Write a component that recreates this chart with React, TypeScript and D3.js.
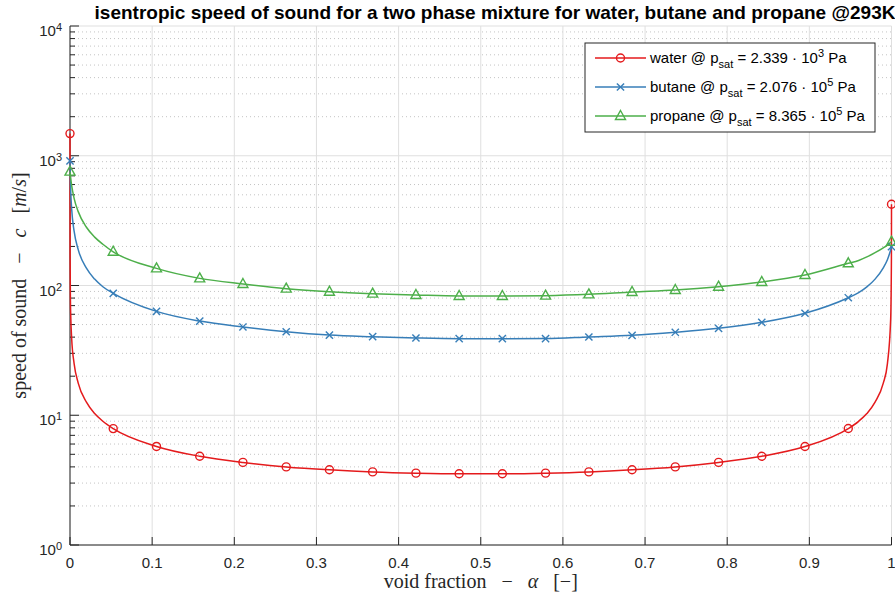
import React from 'react';
import * as d3 from 'd3';

// ---------- data ----------
const markerAlpha = [0, 0.0526, 0.1053, 0.1579, 0.2105, 0.2632, 0.3158, 0.3684, 0.4211, 0.4737,
  0.5263, 0.5789, 0.6316, 0.6842, 0.7368, 0.7895, 0.8421, 0.8947, 0.9474, 1];
const waterMarkers = [1482, 7.89, 5.75, 4.83, 4.33, 4.0, 3.80, 3.66, 3.58, 3.54,
  3.54, 3.58, 3.66, 3.80, 4.0, 4.33, 4.83, 5.74, 7.9, 423];
const butaneMarkers = [912, 87.1, 63.2, 53.2, 47.9, 44.0, 41.5, 40.3, 39.4, 38.9,
  38.9, 39.0, 40.1, 41.3, 43.6, 46.8, 52.0, 61.1, 80.5, 199];
const propaneMarkers = [755, 182, 135.5, 113.5, 102.7, 94.6, 89.6, 86.5, 84.5, 83.0,
  83.0, 83.5, 85.5, 89.1, 92.3, 97.9, 106.4, 120.5, 148.3, 217.6];

const headAlpha = [0.0001, 0.0005, 0.001, 0.002, 0.005, 0.01, 0.02, 0.03, 0.04];
const tailAlpha = [0.96, 0.97, 0.98, 0.99, 0.995, 0.999, 0.9999, 0.99999];
const waterHead = [175, 78.8, 55.7, 39.4, 25.0, 17.7, 12.6, 10.3, 8.99];
const waterTail = [8.98, 10.3, 12.6, 17.7, 24.9, 55.2, 162.6, 336.9];
const butaneHead = [824, 627, 507, 390, 262, 189, 136, 112, 97.8];
const butaneTail = [88, 97.5, 112, 137, 158, 188, 197, 198.8];
const propaneHead = [743, 701, 658, 591, 470, 371, 281, 236, 208];
const propaneTail = [156, 166, 179, 195, 205, 215, 217.4, 217.6];

const xTicks = [0, 0.1, 0.2, 0.3, 0.4, 0.5, 0.6, 0.7, 0.8, 0.9, 1];
const xTickLabels = ['0', '0.1', '0.2', '0.3', '0.4', '0.5', '0.6', '0.7', '0.8', '0.9', '1'];
const yTicks = [1, 10, 100, 1000, 10000];
const yTickExp = ['0', '1', '2', '3', '4'];

const seriesNames = ['water', 'butane', 'propane'];
const psatMant = ['2.339', '2.076', '8.365'];
const psatExp = ['3', '5', '5'];
const colors = ['#e41a1c', '#377eb8', '#4daf4a'];
const markerKinds = ['circle', 'cross', 'triangle'];

// ---------- layout ----------
const W = 895, H = 599;
const L = 70, R = 891.5, T = 26, B = 545;
const FONT = "'Liberation Sans', Arial, Helvetica, sans-serif";
const SERIF = "'Liberation Serif', 'Times New Roman', serif";
const AX = '#262626';

function buildLine(markers: number[], head: number[], tail: number[]) {
  const a = [markerAlpha[0], ...headAlpha, ...markerAlpha.slice(1, -1), ...tailAlpha, markerAlpha[markerAlpha.length - 1]];
  const v = [markers[0], ...head, ...markers.slice(1, -1), ...tail, markers[markers.length - 1]];
  return a.map((al, i) => [al, v[i]] as [number, number]);
}

function Marker({ kind, x, y, color }: { kind: string; x: number; y: number; color: string }) {
  if (kind === 'circle') return <circle cx={x} cy={y} r={4} fill="none" stroke={color} strokeWidth={1.4} />;
  if (kind === 'cross') {
    const s = 3.6;
    return (
      <g stroke={color} strokeWidth={1.4}>
        <line x1={x - s} y1={y - s} x2={x + s} y2={y + s} />
        <line x1={x - s} y1={y + s} x2={x + s} y2={y - s} />
      </g>
    );
  }
  return <polygon points={`${x},${y - 5.5} ${x + 5},${y + 3.5} ${x - 5},${y + 3.5}`} fill="none" stroke={color} strokeWidth={1.4} />;
}

export default function App() {
  const x = d3.scaleLinear().domain([0, 1]).range([L, R]);
  const y = d3.scaleLog().domain([1, 10000]).range([B, T]);
  const line = d3.line<[number, number]>().x(d => x(d[0])).y(d => y(d[1])).curve(d3.curveMonotoneX);

  const lines = [
    buildLine(waterMarkers, waterHead, waterTail),
    buildLine(butaneMarkers, butaneHead, butaneTail),
    buildLine(propaneMarkers, propaneHead, propaneTail),
  ];
  const markerSets = [waterMarkers, butaneMarkers, propaneMarkers];

  const minorY: number[] = [];
  for (let d = 0; d < 4; d++) for (let k = 2; k <= 9; k++) minorY.push(k * Math.pow(10, d));

  const lgX = 585, lgY = 43, lgW = 290, lgH = 89;
  const pre = { whiteSpace: 'pre' as const };

  return (
    <svg width={W} height={H} style={{ position: 'fixed', left: 0, top: 0, background: '#fff' }} fontFamily={FONT}>
      <rect x={0} y={0} width={W} height={H} fill="#fff" />
      {/* minor grid */}
      {minorY.map((v, i) => (
        <line key={'mg' + i} x1={L} x2={R} y1={y(v)} y2={y(v)} stroke="#c4c4c4" strokeWidth={1} strokeDasharray="1 3" />
      ))}
      {/* major grid */}
      {yTicks.map((v, i) => (
        <line key={'gy' + i} x1={L} x2={R} y1={y(v)} y2={y(v)} stroke="#dfdfdf" strokeWidth={1} />
      ))}
      {xTicks.map((v, i) => (
        <line key={'gx' + i} x1={x(v)} x2={x(v)} y1={T} y2={B} stroke="#dfdfdf" strokeWidth={1} />
      ))}
      {/* axes */}
      <line x1={L} x2={L} y1={T} y2={B} stroke={AX} strokeWidth={1} />
      <line x1={L} x2={R} y1={B} y2={B} stroke={AX} strokeWidth={1} />
      {xTicks.map((v, i) => (
        <line key={'tx' + i} x1={x(v)} x2={x(v)} y1={B} y2={B - 8} stroke={AX} strokeWidth={1} />
      ))}
      {yTicks.map((v, i) => (
        <line key={'ty' + i} x1={L} x2={L + 9} y1={y(v)} y2={y(v)} stroke={AX} strokeWidth={1} />
      ))}
      {minorY.map((v, i) => (
        <line key={'mty' + i} x1={L} x2={L + 5} y1={y(v)} y2={y(v)} stroke={AX} strokeWidth={1} />
      ))}
      {/* tick labels */}
      {xTicks.map((v, i) => (
        <text key={'lx' + i} x={x(v)} y={568} textAnchor="middle" fontSize={15} fill={AX}>{xTickLabels[i]}</text>
      ))}
      {yTicks.map((v, i) => (
        <text key={'ly' + i} x={62} y={y(v) + 10} textAnchor="end" fontSize={15} fill={AX}>
          <tspan>10</tspan>
          <tspan dy={-5} fontSize={11}>{yTickExp[i]}</tspan>
        </text>
      ))}
      {/* data */}
      {lines.map((pts, s) => (
        <path key={'p' + s} d={line(pts) || ''} fill="none" stroke={colors[s]} strokeWidth={1.5} />
      ))}
      {markerSets.map((vals, s) =>
        vals.map((v, i) => (
          <Marker key={'m' + s + '-' + i} kind={markerKinds[s]} x={x(markerAlpha[i])} y={y(v)} color={colors[s]} />
        ))
      )}
      {/* title */}
      <text x={495} y={19} textAnchor="middle" fontSize={19} fontWeight="bold" fill="#000">
        isentropic speed of sound for a two phase mixture for water, butane and propane @293K
      </text>
      {/* axis labels */}
      <text x={(L + R) / 2} y={588} textAnchor="middle" fontSize={20} fontFamily={SERIF} fill={AX} style={pre}>
        {'void fraction   −   '}<tspan fontStyle="italic">α</tspan>{'   [−]'}
      </text>
      <text transform={`translate(26,${(T + B) / 2}) rotate(-90)`} textAnchor="middle" fontSize={20} fontFamily={SERIF} fill={AX} style={pre}>
        {'speed of sound   −   '}<tspan fontStyle="italic">c</tspan>{'   ['}<tspan fontStyle="italic">m</tspan>/<tspan fontStyle="italic">s</tspan>]
      </text>
      {/* legend */}
      <rect x={lgX} y={lgY} width={lgW} height={lgH} fill="#fff" stroke={AX} strokeWidth={1} />
      {seriesNames.map((n, i) => {
        const ly = 58 + i * 29;
        return (
          <g key={'lg' + i}>
            <line x1={595} x2={646} y1={ly} y2={ly} stroke={colors[i]} strokeWidth={1.5} />
            <Marker kind={markerKinds[i]} x={620.5} y={ly} color={colors[i]} />
            <text x={650} y={ly + 5} fontSize={15} fill="#000">
              <tspan>{n} @ p</tspan>
              <tspan dy={5} fontSize={11}>sat</tspan>
              <tspan dy={-5}>{` = ${psatMant[i]} · 10`}</tspan>
              <tspan dy={-6} fontSize={11}>{psatExp[i]}</tspan>
              <tspan dy={6}> Pa</tspan>
            </text>
          </g>
        );
      })}
    </svg>
  );
}
